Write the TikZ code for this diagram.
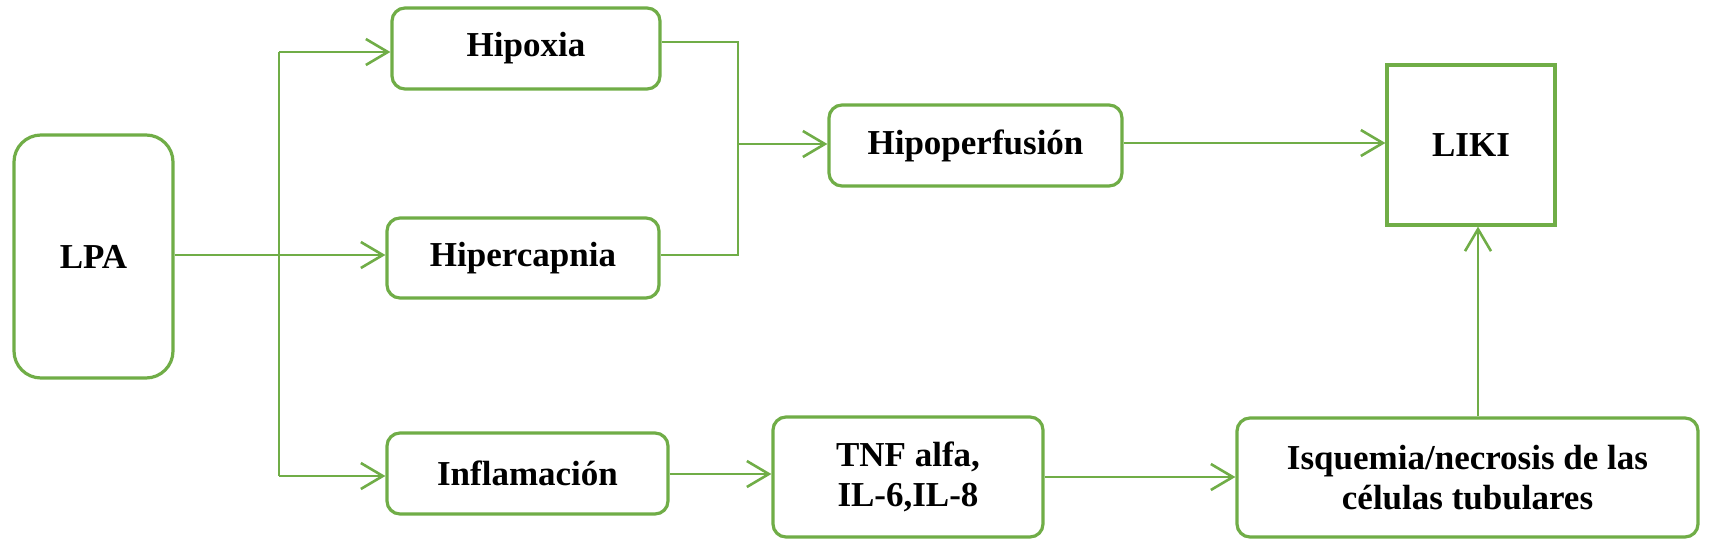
\documentclass[tikz,border=0pt]{standalone}
\usepackage{fontspec}
\setmainfont{Liberation Serif}
\usetikzlibrary{arrows.meta}
\definecolor{grn}{RGB}{112,173,71}
\begin{document}
\begin{tikzpicture}[x=1pt,y=-1pt,
  box/.style={draw=grn, line width=3.2pt, rounded corners=13pt, fill=white, inner sep=0pt, align=center, font=\bfseries\fontsize{35}{40}\selectfont},
  conn/.style={draw=grn, line width=2.6pt},
  thin conn/.style={draw=grn, line width=2pt},
  arr/.style={conn, -{Straight Barb[length=22pt,width=26pt]}},
]
\useasboundingbox (0,0) rectangle (1710,554);
\node[box, minimum width=159pt, minimum height=243pt, rounded corners=27pt] (lpa) at (93.5,256.5) {LPA};
\node[box, minimum width=268pt, minimum height=81pt] (hipoxia) at (526,48.5) {Hipoxia};
\node[box, minimum width=272pt, minimum height=80pt] (hiperc) at (523,258) {Hipercapnia};
\node[box, minimum width=281pt, minimum height=81pt] (infl) at (527.5,473.5) {Inflamación};
\node[box, minimum width=293pt, minimum height=81pt] (hipo) at (975.5,145.5) {Hipoperfusión};
\node[box, minimum width=270pt, minimum height=120pt] (tnf) at (908,477) {TNF alfa,\\IL-6,IL-8};
\node[box, minimum width=168pt, minimum height=160pt, sharp corners] (liki) at (1471,145) {LIKI};
\node[box, minimum width=461pt, minimum height=119pt] (isq) at (1467.5,477.5) {Isquemia/necrosis de las\\células tubulares};
% branch from LPA
\coordinate (btop) at (279,52);
\coordinate (bbot) at (279,476);
\draw[arr] (lpa.east |- 0,255) -- (hiperc.west |- 0,255);
\draw[conn] (btop) -- (bbot);
\draw[arr] (btop) -- (btop -| hipoxia.west);
\draw[arr] (bbot) -- (bbot -| infl.west);
% join to Hipoperfusion
\coordinate (jt) at (738,42);
\coordinate (jb) at (738,255);
\coordinate (jm) at (738,144);
\draw[thin conn] (hipoxia.east |- jt) -- (jt) -- (jb) -- (hiperc.east |- jb);
\draw[arr] (jm) -- (jm -| hipo.west);
% others
\draw[arr] (hipo.east |- 0,143) -- (liki.west |- 0,143);
\draw[arr] (infl.east |- 0,474) -- (tnf.west |- 0,474);
\draw[arr] (tnf.east |- 0,477) -- (isq.west |- 0,477);
\coordinate (vx) at (1478,0);
\draw[arr] (isq.north -| vx) -- (liki.south -| vx);
\end{tikzpicture}
\end{document}
